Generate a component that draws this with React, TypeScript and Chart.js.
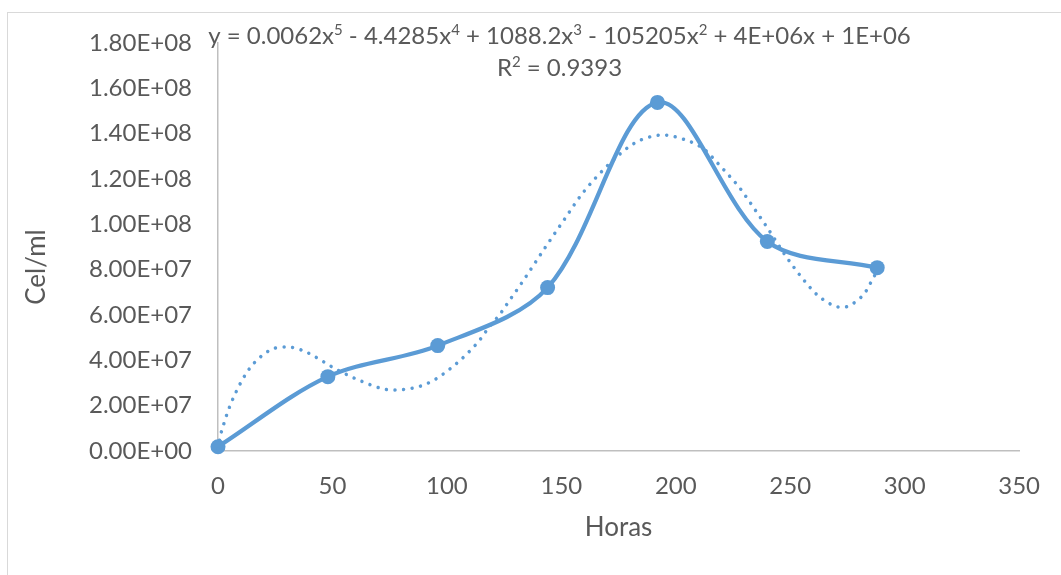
import React, { useEffect, useRef } from 'react';
import { Chart, registerables } from 'chart.js';

Chart.register(...registerables);

// Measured series (hours vs cells/ml)
const hours = [0, 48, 96, 144, 192, 240, 288];
const cellsPerMl = [1.9e6, 3.28e7, 4.65e7, 7.21e7, 1.538e8, 9.24e7, 8.09e7];

// Polynomial trendline (dotted curve)
const trendHours = [0, 1.5, 6.5, 14.1, 22.9, 30.4, 38.3, 51.6, 62.2, 73.1, 80.7, 88.7, 95.7, 105.1, 113.4, 118.1, 122.9, 127.2, 133.8, 142.5, 151.2, 159.9, 171.0, 182.5, 193.8, 205.0, 212.3, 217.4, 224.6, 228.0, 236.7, 241.1, 247.2, 252.0, 256.7, 262.0, 268.5, 272.3, 276.1, 282.0, 286.0, 288];
const trendCells = [1.0e6, 8.5e6, 2.3e7, 3.68e7, 4.46e7, 4.59e7, 4.38e7, 3.61e7, 3.1e7, 2.72e7, 2.71e7, 2.87e7, 3.21e7, 3.94e7, 4.78e7, 5.42e7, 6.0e7, 6.62e7, 7.58e7, 8.91e7, 1.02e8, 1.145e8, 1.267e8, 1.361e8, 1.394e8, 1.37e8, 1.332e8, 1.28e8, 1.2e8, 1.16e8, 1.034e8, 9.68e7, 8.73e7, 8.05e7, 7.45e7, 6.87e7, 6.43e7, 6.34e7, 6.42e7, 6.9e7, 7.58e7, 7.95e7];

const yTickLabels = ['0.00E+00', '2.00E+07', '4.00E+07', '6.00E+07', '8.00E+07', '1.00E+08', '1.20E+08', '1.40E+08', '1.60E+08', '1.80E+08'];
const xTickLabels = ['0', '50', '100', '150', '200', '250', '300', '350'];

const xTitle = 'Horas';
const yTitle = 'Cel/ml';

const equationParts: [string, boolean][] = [
  ['y = 0.0062x', false], ['5', true],
  [' - 4.4285x', false], ['4', true],
  [' + 1088.2x', false], ['3', true],
  [' - 105205x', false], ['2', true],
  [' + 4E+06x + 1E+06', false],
];
const r2Parts: [string, boolean][] = [['R', false], ['2', true], [' = 0.9393', false]];

const BLUE = '#5B9BD5';
const TEXT = '#595959';
const FONT = 'Lato, "Open Sans", sans-serif';

function drawRich(ctx: CanvasRenderingContext2D, parts: [string, boolean][], cx: number, baseline: number, size: number) {
  const supSize = Math.round(size * 0.62);
  const widths = parts.map(([t, sup]) => {
    ctx.font = `${sup ? supSize : size}px ${FONT}`;
    return ctx.measureText(t).width;
  });
  const total = widths.reduce((a, b) => a + b, 0);
  let x = cx - total / 2;
  ctx.textAlign = 'left';
  ctx.textBaseline = 'alphabetic';
  parts.forEach(([t, sup], i) => {
    ctx.font = `${sup ? supSize : size}px ${FONT}`;
    ctx.fillText(t, x, sup ? baseline - size * 0.36 : baseline);
    x += widths[i];
  });
}

const labelsPlugin = {
  id: 'labelsPlugin',
  afterDraw(chart: any) {
    const ctx = chart.ctx as CanvasRenderingContext2D;
    ctx.save();
    ctx.fillStyle = TEXT;
    drawRich(ctx, equationParts, 559.5, 43.5, 24);
    drawRich(ctx, r2Parts, 559.5, 75.5, 24);
    // y axis title
    ctx.translate(37, 267);
    ctx.rotate(-Math.PI / 2);
    ctx.font = `26px ${FONT}`;
    ctx.textAlign = 'center';
    ctx.textBaseline = 'middle';
    ctx.fillText(yTitle, 0, 0);
    ctx.restore();
  },
};

export default function App() {
  const ref = useRef<HTMLCanvasElement | null>(null);
  useEffect(() => {
    if (!ref.current) return;
    const chart = new Chart(ref.current, {
      type: 'scatter',
      data: {
        datasets: [
          {
            label: 'Poly. trend',
            data: trendHours.map((x, i) => ({ x, y: trendCells[i] })),
            showLine: true,
            borderColor: BLUE,
            borderWidth: 3.5,
            borderDash: [0.001, 8.6],
            borderCapStyle: 'round',
            pointRadius: 0,
            pointHoverRadius: 0,
            tension: 0.33,
            clip: false,
            order: 0,
          },
          {
            label: 'Cel/ml',
            data: hours.map((x, i) => ({ x, y: cellsPerMl[i] })),
            showLine: true,
            borderColor: BLUE,
            backgroundColor: BLUE,
            borderWidth: 4.25,
            pointRadius: 7.5,
            pointBorderWidth: 0,
            pointBackgroundColor: BLUE,
            tension: 0.33,
            clip: false,
            order: 1,
          },
        ],
      },
      options: {
        animation: false,
        responsive: false,
        events: [],
        layout: { padding: { left: 0, top: 43, right: 40, bottom: 0 } },
        plugins: { legend: { display: false }, tooltip: { enabled: false } },
        scales: {
          x: {
            type: 'linear',
            min: 0,
            max: 350,
            afterFit: (s: any) => { s.height = 124; },
            afterBuildTicks: (s: any) => { s.ticks = xTickLabels.map((t) => ({ value: Number(t) })); },
            grid: { display: false, drawTicks: false },
            border: { display: true, color: '#BFBFBF', width: 1.5 },
            ticks: {
              padding: 21,
              color: TEXT,
              font: { family: FONT, size: 24 },
              callback: (_v: any, i: number) => xTickLabels[i],
            },
            title: {
              display: true,
              text: xTitle,
              color: TEXT,
              font: { family: FONT, size: 26 },
              padding: { top: 0, bottom: 32 },
            },
          },
          y: {
            type: 'linear',
            min: 0,
            max: 1.8e8,
            afterFit: (s: any) => { s.width = 218; },
            afterBuildTicks: (s: any) => { s.ticks = yTickLabels.map((_t, i) => ({ value: i * 2e7 })); },
            grid: { display: false, drawTicks: false },
            border: { display: true, color: '#BFBFBF', width: 1.5 },
            ticks: {
              padding: 26,
              color: TEXT,
              font: { family: FONT, size: 24 },
              callback: (_v: any, i: number) => yTickLabels[i],
            },
          },
        },
      },
      plugins: [labelsPlugin],
    } as any);
    return () => chart.destroy();
  }, []);

  return (
    <div style={{ position: 'fixed', left: 0, top: 0, width: 1061, height: 575, overflow: 'hidden', background: '#fff' }}>
      <canvas ref={ref} width={1061} height={575} style={{ display: 'block', width: 1061, height: 575 }} />
      <div style={{ position: 'absolute', left: 7, top: 12, width: 1100, height: 620, border: '1.5px solid #D9D9D9', pointerEvents: 'none' }} />
    </div>
  );
}
